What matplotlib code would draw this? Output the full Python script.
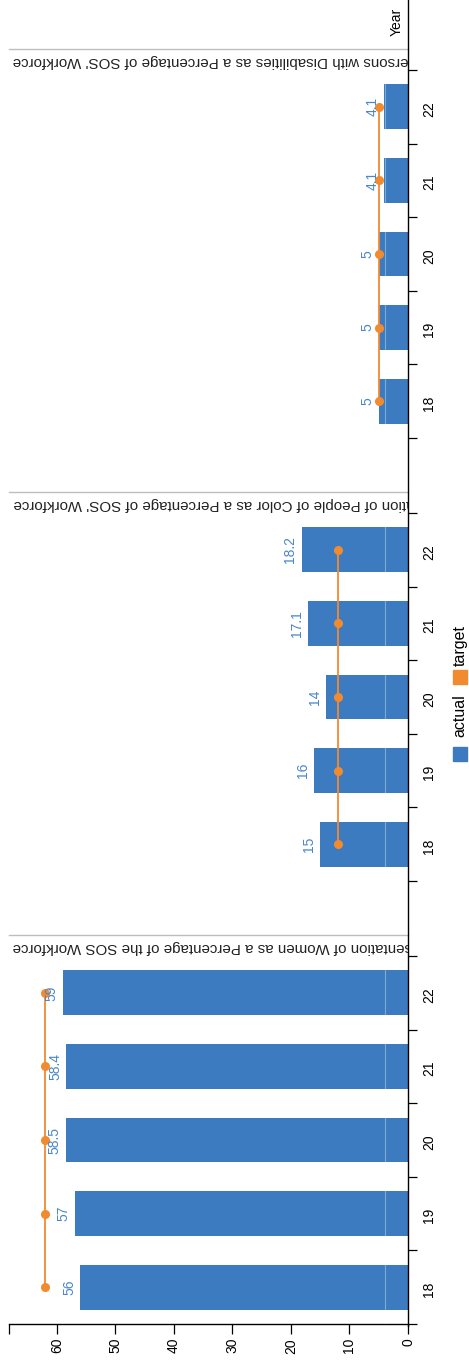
import matplotlib.pyplot as plt
import numpy as np
from matplotlib.lines import Line2D
from matplotlib.patches import Rectangle
from matplotlib.ticker import FixedLocator, NullFormatter

plt.rcParams['font.family'] = ['Liberation Sans', 'DejaVu Sans']

# data
years = ['18', '19', '20', '21', '22']
women_actual = [56, 57, 58.5, 58.4, 59]
women_target = [62, 62, 62, 62, 62]
poc_actual = [15, 16, 14, 17.1, 18.2]
poc_target = [12, 12, 12, 12, 12]
pwd_actual = [5, 5, 5, 4.1, 4.1]
pwd_target = [5, 5, 5, 5, 5]

titles = [
    "Representation of Persons with Disabilities as a Percentage of SOS' Workforce",
    "Representation of People of Color as a Percentage of SOS' Workforce",
    "Representation of Women as a Percentage of the SOS Workforce",
]
actuals = [pwd_actual, poc_actual, women_actual]
targets = [pwd_target, poc_target, women_target]

BLUE = '#3c7bc0'
LABEL_BLUE = '#4a86cc'
ORANGE = '#f28a30'

W, H = 469, 1365
fig = plt.figure(figsize=(W / 100, H / 100), dpi=100)

x_left, x_right = 9, 408          # value axis, px
vmax = 68.2                       # value at left edge of the axis
panel_tops = [49, 492, 935]       # title line of each panel, px from top
panel_h = 389
head = 21                         # gap between title line and first band, px
step = 367.5 / 5

pos = np.arange(len(years))

for i, (top, title, act, tgt) in enumerate(zip(panel_tops, titles, actuals, targets)):
    ax = fig.add_axes([x_left / W, 1 - (top + panel_h) / H,
                       (x_right - x_left) / W, panel_h / H])
    ax.set_xlim(vmax, 0)
    ax.set_ylim(-0.5, 4.5 + head / step)

    ax.barh(pos, act, height=0.61, color=BLUE, zorder=2)
    ax.plot(tgt, pos, color=ORANGE, lw=1.3, marker='o', ms=5.5, zorder=4)
    # faint seam running through the bars
    ax.plot([3.93, 3.93], [-0.5, 4.5], color='white', lw=0.8, alpha=0.35, zorder=3)

    for y, v in zip(pos, act):
        ax.annotate(f'{v:g}', xy=(v, y), xytext=(-3, 0), textcoords='offset points',
                    rotation=90, ha='right', va='center', fontsize=10,
                    color=LABEL_BLUE, zorder=5)

    # facet header, upside down and cut off by the year axis
    ax.text((13 - x_left) / (x_right - x_left), 1 - 8 / panel_h, title,
            transform=ax.transAxes, rotation=180, rotation_mode='anchor',
            ha='right', va='baseline', fontsize=10.9, color='#222222', clip_on=True)

    for s in ['left', 'right']:
        ax.spines[s].set_visible(False)
    ax.spines['top'].set_color('#bdbdbd')
    ax.spines['top'].set_linewidth(1.0)

    # year axis on the right: ticks at band edges, labels at band centres
    ax.yaxis.tick_right()
    ax.yaxis.set_major_locator(FixedLocator(np.arange(-0.5, 5, 1)))
    ax.yaxis.set_major_formatter(NullFormatter())
    ax.yaxis.set_minor_locator(FixedLocator(pos))
    ax.set_yticklabels(years, minor=True)
    ax.tick_params(axis='y', which='major', direction='out', length=6.5, width=0.9,
                   color='black', right=True, left=False)
    ax.tick_params(axis='y', which='minor', length=0, labelright=True, labelleft=False,
                   labelrotation=90, pad=10, labelsize=10)

    if i == len(panel_tops) - 1:
        ax.spines['bottom'].set_color('black')
        ax.spines['bottom'].set_linewidth(1.0)
        ticks = [0, 10, 20, 30, 40, 50, 60, vmax]
        ax.set_xticks(ticks)
        ax.set_xticklabels([f'{t:g}' for t in ticks[:-1]] + [''])
        ax.tick_params(axis='x', direction='out', length=7, width=0.9,
                       labelrotation=90, pad=3, labelsize=10)
    else:
        ax.spines['bottom'].set_visible(False)
        ax.set_xticks([])

# continuous year axis line
fig.add_artist(Line2D([x_right / W, x_right / W], [1 - 1326 / H, 1],
                      transform=fig.transFigure, color='black', lw=1.0))

fig.text(397 / W, 1 - 22 / H, 'Year', rotation=90, ha='center', va='center',
         fontsize=10)

# legend
fig.add_artist(Rectangle((453 / W, 1 - 761 / H), 14 / W, 14 / H,
                         transform=fig.transFigure, color=BLUE))
fig.text(460 / W, 1 - 716 / H, 'actual', rotation=90, ha='center', va='center',
         fontsize=11.5)
fig.add_artist(Rectangle((453 / W, 1 - 684 / H), 14 / W, 14 / H,
                         transform=fig.transFigure, color=ORANGE))
fig.text(460 / W, 1 - 645 / H, 'target', rotation=90, ha='center', va='center',
         fontsize=11.5)

fig.savefig('out.png', dpi=100)
plt.close(fig)
